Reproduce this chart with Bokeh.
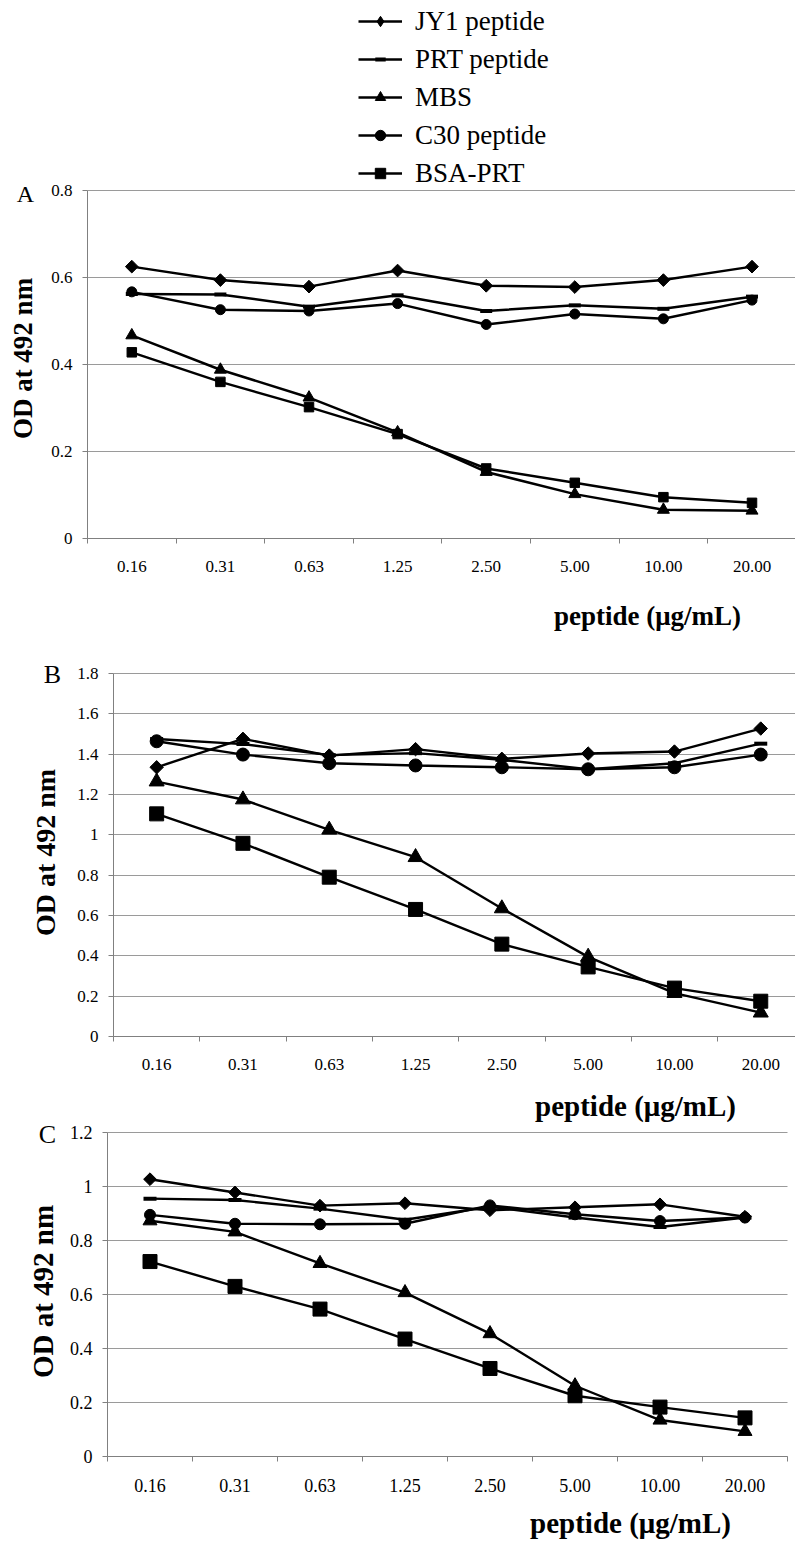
import math
from bokeh.plotting import figure
from bokeh.models import (Range1d, FixedTicker, PrintfTickFormatter, Label, Legend, LegendItem,
                          Grid, LinearAxis)
from bokeh.embed import file_html
from bokeh.resources import INLINE

# ---------------- data ----------------
categories = ["0.16", "0.31", "0.63", "1.25", "2.50", "5.00", "10.00", "20.00"]
series_names = ["JY1 peptide", "PRT peptide", "MBS", "C30 peptide", "BSA-PRT"]

# Panel A
jy1_a = [0.625, 0.594, 0.579, 0.616, 0.581, 0.578, 0.594, 0.625]
prt_a = [0.562, 0.561, 0.533, 0.559, 0.523, 0.536, 0.528, 0.556]
mbs_a = [0.467, 0.388, 0.324, 0.244, 0.153, 0.102, 0.066, 0.064]
c30_a = [0.567, 0.526, 0.523, 0.540, 0.492, 0.516, 0.505, 0.548]
bsa_a = [0.428, 0.360, 0.302, 0.240, 0.161, 0.128, 0.095, 0.082]

# Panel B
jy1_b = [1.335, 1.476, 1.393, 1.425, 1.377, 1.403, 1.413, 1.527]
prt_b = [1.475, 1.450, 1.395, 1.405, 1.372, 1.325, 1.355, 1.452]
mbs_b = [1.264, 1.175, 1.025, 0.889, 0.635, 0.395, 0.215, 0.118]
c30_b = [1.464, 1.398, 1.355, 1.344, 1.335, 1.325, 1.335, 1.398]
bsa_b = [1.104, 0.958, 0.790, 0.630, 0.458, 0.345, 0.240, 0.175]

# Panel C
jy1_c = [1.027, 0.978, 0.929, 0.938, 0.912, 0.923, 0.934, 0.888]
prt_c = [0.955, 0.950, 0.918, 0.877, 0.925, 0.885, 0.850, 0.885]
mbs_c = [0.873, 0.832, 0.715, 0.607, 0.455, 0.262, 0.135, 0.093]
c30_c = [0.895, 0.862, 0.860, 0.862, 0.930, 0.897, 0.872, 0.885]
bsa_c = [0.722, 0.630, 0.546, 0.435, 0.326, 0.225, 0.183, 0.143]

yticks_a = [0, 0.2, 0.4, 0.6, 0.8]
yticks_b = [0, 0.2, 0.4, 0.6, 0.8, 1.0, 1.2, 1.4, 1.6, 1.8]
yticks_c = [0, 0.2, 0.4, 0.6, 0.8, 1.0, 1.2]

y_title = "OD at 492 nm"
x_title = "peptide (\u03bcg/mL)"

# ---------------- style / layout ----------------
FONT = "Liberation Serif"
GRID = "#9a9a9a"
AXIS = "#808080"
PAGE_W, PAGE_H = 795, 1552
x_index = list(range(len(categories)))

marker_kinds = ["square", "dash", "triangle", "circle", "square"]
marker_angles = [math.pi / 4, 0, 0, 0, 0]

p = figure(width=PAGE_W, height=PAGE_H, x_range=Range1d(0, 1), y_range=Range1d(0, 1),
           x_axis_location=None, y_axis_location=None,
           output_backend="svg", toolbar_location=None,
           min_border_left=0, min_border_right=0, min_border_top=0, min_border_bottom=0)
p.outline_line_color = None
p.background_fill_color = "white"
p.border_fill_color = "white"
p.grid.visible = False


def make_panel(name, series, yticks, g, sizes, lw, letter, letter_size, ylab_pos, ylab_size,
               xt_pos, xt_size, tick_size, legend=False):
    fl, fb, ppx = g["fl"], g["fb"], g["ppx"]
    ppy = g["frame_h"] / yticks[-1]
    x0 = -0.5 - fl / ppx
    x1 = -0.5 + (PAGE_W - fl) / ppx
    y0 = (fb - PAGE_H) / ppy
    y1 = fb / ppy
    x_vis_end = min(x1, len(categories) - 0.5)
    p.extra_x_ranges[name] = Range1d(x0, x1)
    p.extra_y_ranges[name] = Range1d(y0, y1)
    rn = dict(x_range_name=name, y_range_name=name)

    grid = Grid(dimension=1, ticker=FixedTicker(ticks=yticks), grid_line_color=GRID,
                grid_line_width=1, cross_bounds=(-0.5, x_vis_end), **rn)
    p.add_layout(grid)

    ya = LinearAxis(fixed_location=-0.5, bounds=(0, yticks[-1]), ticker=FixedTicker(ticks=yticks),
                    formatter=PrintfTickFormatter(format="%g"), **rn)
    ya.axis_line_color = AXIS
    ya.major_tick_line_color = AXIS
    ya.major_tick_out = 5
    ya.major_tick_in = 0
    ya.minor_tick_line_color = None
    ya.major_label_standoff = 10
    ya.major_label_text_font = FONT
    ya.major_label_text_font_size = f"{tick_size}px"
    ya.major_label_text_color = "black"
    p.add_layout(ya, "left")

    xa = LinearAxis(fixed_location=0, bounds=(-0.5, x_vis_end),
                    ticker=FixedTicker(ticks=x_index,
                                       minor_ticks=[i - 0.5 for i in range(len(categories) + 1)]),
                    **rn)
    xa.major_label_overrides = {i: c for i, c in enumerate(categories)}
    xa.axis_line_color = AXIS
    xa.major_tick_line_color = None
    xa.major_tick_out = 0
    xa.major_tick_in = 0
    xa.minor_tick_line_color = AXIS
    xa.minor_tick_out = 5
    xa.minor_tick_in = 0
    xa.major_label_standoff = 17
    xa.major_label_text_font = FONT
    xa.major_label_text_font_size = f"{tick_size}px"
    xa.major_label_text_color = "black"
    p.add_layout(xa, "below")

    items = []
    for sname, ys, kind, ang, sz in zip(series_names, series, marker_kinds, marker_angles, sizes):
        lr = p.line(x_index, ys, line_color="black", line_width=lw, **rn)
        if kind == "dash":
            sr = p.scatter(x_index, ys, marker=kind, size=sz, line_color="black", line_width=4, **rn)
        else:
            sr = p.scatter(x_index, ys, marker=kind, size=sz, angle=ang,
                           fill_color="black", line_color="black", line_width=1, **rn)
        items.append((sname, ys, lr, sr, ang))

    def add_text(px, py, text, size, bold=False, angle=0.0):
        xd = -0.5 + (px - fl) / ppx
        yd = (fb - py) / ppy
        p.add_layout(Label(x=xd, y=yd, text=text, text_font=FONT, text_font_size=f"{size}px",
                           text_font_style="bold" if bold else "normal", text_color="black",
                           text_align="center", text_baseline="middle", angle=angle, **rn))

    add_text(letter[0], letter[1], letter[2], letter_size)
    add_text(ylab_pos[0], ylab_pos[1], y_title, ylab_size, bold=True, angle=math.pi / 2)
    add_text(xt_pos[0], xt_pos[1], x_title, xt_size, bold=True)

    if legend:
        legend_items = []
        for sname, ys, lr, sr, ang in items:
            if ang != 0:
                # hidden diamond renderer used only as the legend swatch
                sr = p.scatter(x_index, ys, marker="diamond", size=12, fill_color="black",
                               line_color="black", line_width=1, visible=False, **rn)
            legend_items.append(LegendItem(label=sname, renderers=[lr, sr]))
        lg = Legend(items=legend_items, location=(358, PAGE_H - 192),
                    orientation="vertical", glyph_width=44, glyph_height=26,
                    label_height=38, label_standoff=13, spacing=0, padding=0, margin=0,
                    label_text_font=FONT, label_text_font_size="27px", label_text_color="black",
                    border_line_color=None, background_fill_alpha=0,
                    inactive_fill_alpha=0)
        p.add_layout(lg)


# page geometry of each panel (page pixels): frame left, y=0 level, frame height, category width
gA = dict(fl=87, fb=538, frame_h=348, ppx=88.6)
gB = dict(fl=113, fb=1036, frame_h=363, ppx=86.3)
gC = dict(fl=107, fb=1456, frame_h=324, ppx=85.0)

make_panel("A", [jy1_a, prt_a, mbs_a, c30_a, bsa_a], yticks_a, gA,
           [9, 12, 12, 10, 9.5], 2.5, (25, 193, "A"), 24, (22, 358), 27,
           (647, 615), 27, 17, legend=True)
make_panel("B", [jy1_b, prt_b, mbs_b, c30_b, bsa_b], yticks_b, gB,
           [9.5, 13, 15, 13, 14], 2.4, (52, 674, "B"), 26, (45, 852), 28,
           (635, 1105), 29, 17)
make_panel("C", [jy1_c, prt_c, mbs_c, c30_c, bsa_c], yticks_c, gC,
           [9, 13, 14, 11, 14], 2.4, (47, 1134, "C"), 26, (42, 1291), 29,
           (630, 1522), 29, 18)

open("out.html", "w").write(file_html(p, INLINE))
